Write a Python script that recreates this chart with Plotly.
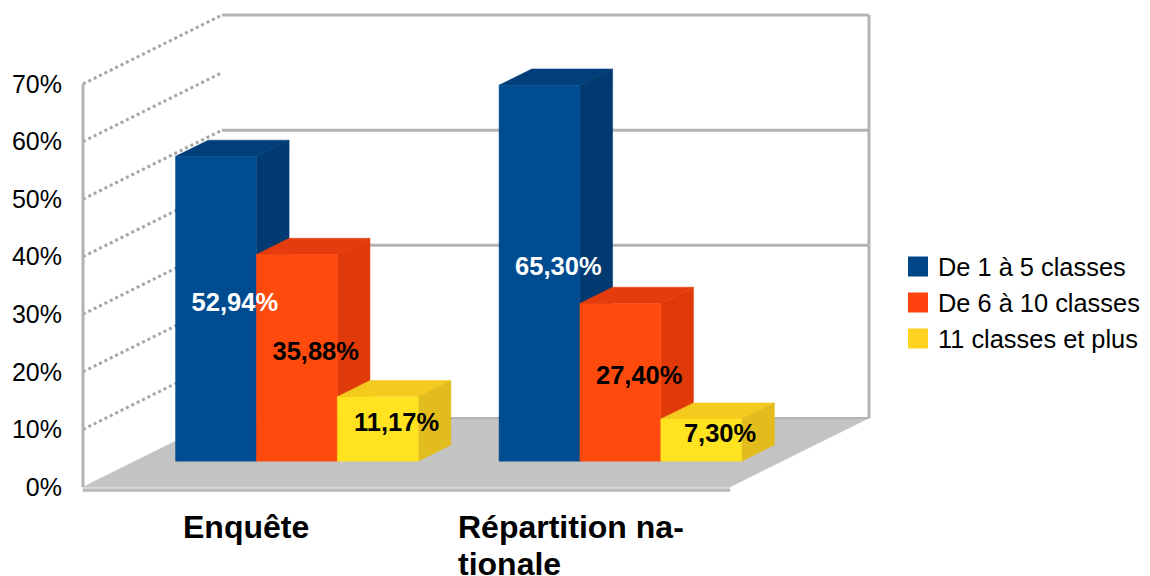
import plotly.graph_objects as go

category_lines = [["Enquête"], ["Répartition na-", "tionale"]]
series_names = ["De 1 à 5 classes", "De 6 à 10 classes", "11 classes et plus"]
enquete = [52.94, 35.88, 11.17]
repartition = [65.30, 27.40, 7.30]
values = [enquete, repartition]
front_colors = ["#004c91", "#ff4a0e", "#ffe320"]
top_colors = ["#003f7a", "#e43c0c", "#f5ca1e"]
side_colors = ["#003a70", "#e03a0b", "#e2bb1c"]
legend_colors = ["#004586", "#ff420e", "#ffd320"]
label_colors = ["white", "black", "black"]
y_ticks = [0, 10, 20, 30, 40, 50, 60, 70]
back_lines = [30, 50, 70]
FONT = "Liberation Sans"
GRAY = "#b3b3b3"

PX_X = 323.5
PX_Y = 5.757
DX = 139 / PX_X
DY = 69 / PX_Y
X_MAX = 2.0
Y_TOP = 70.0


def P(x, v, d):
    return x + d * DX, v + d * DY


def poly(pts, color, line=None):
    xs = [p[0] for p in pts] + [pts[0][0]]
    ys = [p[1] for p in pts] + [pts[0][1]]
    return go.Scatter(x=xs, y=ys, mode="lines", fill="toself", fillcolor=color,
                      line=dict(color=line or color, width=0.5),
                      hoverinfo="skip", showlegend=False)


def seg(a, b, width=3, dash=None, color=GRAY):
    return go.Scatter(x=[a[0], b[0]], y=[a[1], b[1]], mode="lines",
                      line=dict(color=color, width=width, dash=dash),
                      hoverinfo="skip", showlegend=False)


fig = go.Figure()

for t in back_lines:
    fig.add_trace(seg(P(0, t, 1), P(X_MAX, t, 1)))
fig.add_trace(seg(P(X_MAX, 0, 1), P(X_MAX, Y_TOP, 1)))
for t in y_ticks[1:]:
    fig.add_trace(seg(P(0, t, 0), P(0, t, 1), width=3, dash="3px,3px", color="#a6a6a6"))
fig.add_trace(seg((0, 0), (0, Y_TOP)))

fig.add_trace(poly([P(0, 0, 0), P(X_MAX, 0, 0), P(X_MAX, 0, 1), P(0, 0, 1)], "#c3c3c3"))
fig.add_trace(poly([P(0, 0, 0), P(X_MAX, 0, 0), P(X_MAX, -0.4, 0), P(0, -0.4, 0)], "#d6d6d6"))
fig.add_trace(poly([P(0, -0.4, 0), P(X_MAX, -0.4, 0), P(X_MAX, -0.8, 0), P(0, -0.8, 0)], "#b5b5b5"))
fig.add_trace(seg(P(0, 0, 1), P(X_MAX, 0, 1), width=2))

GROUP_START = 0.125
BAR_W = 0.25
D0 = 0.375
D1 = 0.61
lx, ly, lt, lc = [], [], [], []
for c, vals in enumerate(values):
    for s, v in enumerate(vals):
        x0 = c + GROUP_START + s * BAR_W
        x1 = x0 + BAR_W
        fig.add_trace(poly([P(x0, v, D0), P(x1, v, D0), P(x1, v, D1), P(x0, v, D1)], top_colors[s]))
        fig.add_trace(poly([P(x1, 0, D0), P(x1, v, D0), P(x1, v, D1), P(x1, 0, D1)], side_colors[s]))
        fig.add_trace(poly([P(x0, 0, D0), P(x1, 0, D0), P(x1, v, D0), P(x0, v, D0)], front_colors[s]))
        cx, cy = P((x0 + x1) / 2, v / 2, (D0 + D1) / 2)
        lx.append(cx + 2.5 / PX_X)
        ly.append(cy - 3.5 / PX_Y)
        lt.append(f"{v:.2f}".replace(".", ",") + "%")
        lc.append(label_colors[s])

fig.add_trace(go.Scatter(x=lx, y=ly, text=lt, mode="text", showlegend=False, hoverinfo="skip",
                         textposition="middle center",
                         textfont=dict(family=FONT, size=25.5, color=lc, weight="bold")))

for name, color in zip(series_names, legend_colors):
    fig.add_trace(go.Scatter(x=[None], y=[None], mode="markers", name=name,
                             marker=dict(symbol="square", size=16, color=color,
                                         line=dict(color=color, width=4))))

label_left_px = [182, 457]
line_middle_px = [527, 564]
for c, lines in enumerate(category_lines):
    for i, line in enumerate(lines):
        fig.add_annotation(x=(label_left_px[c] - 83) / PX_X, y=(495 - line_middle_px[i]) / 485,
                           yanchor="middle", xanchor="left", text=line, showarrow=False,
                           font=dict(family=FONT, size=32, color="black", weight="bold"),
                           xref="x", yref="paper", borderpad=0)

fig.update_layout(
    width=1150, height=576, autosize=False,
    margin=dict(l=67, r=283, t=2, b=89, pad=0),
    paper_bgcolor="white", plot_bgcolor="rgba(0,0,0,0)",
    font=dict(family=FONT, color="black"),
    xaxis=dict(range=[-8 / PX_X, 792 / PX_X], visible=False),
    yaxis=dict(range=[-8 / PX_Y, 477 / PX_Y], tickvals=y_ticks, ticktext=[f"{t}%" for t in y_ticks],
               showgrid=False, zeroline=False, showline=False, ticks="",
               tickfont=dict(family=FONT, size=25, color="black"), ticklabelstandoff=12),
    legend=dict(x=(898 - 75) / 800, xanchor="left", y=(495 - 303) / 485, yanchor="middle",
                bgcolor="rgba(0,0,0,0)", tracegroupgap=0,
                font=dict(family=FONT, size=25.4, color="black")),
)
fig.write_html("out.html")
